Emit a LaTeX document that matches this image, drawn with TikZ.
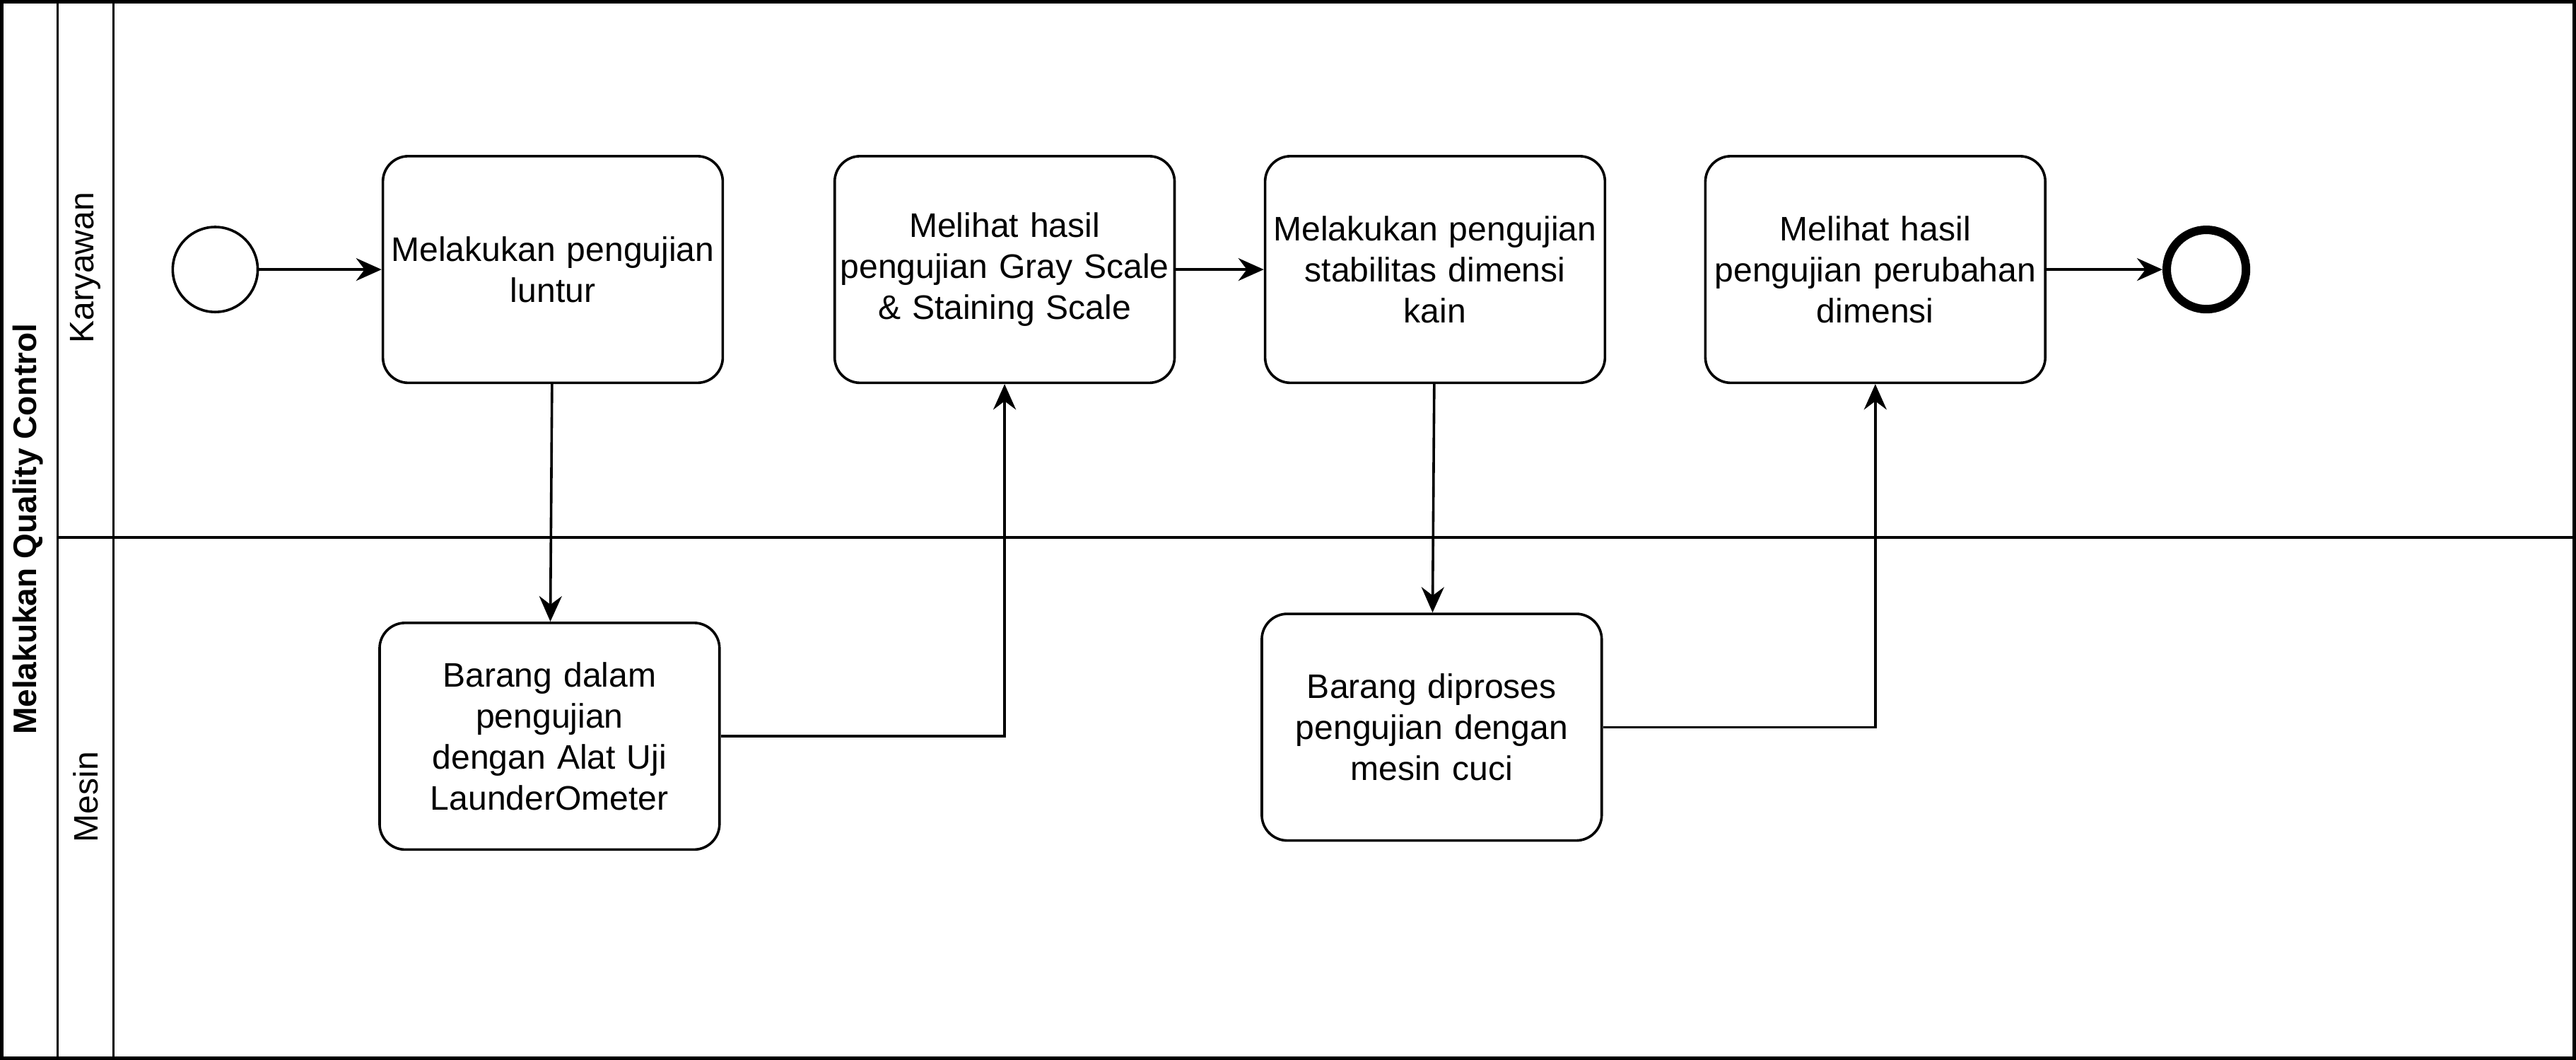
\documentclass[tikz,border=0pt]{standalone}
\usepackage{fontspec}
\setmainfont{Liberation Sans}
\usetikzlibrary{shapes,arrows.meta,calc,positioning}

\begin{document}
\begin{tikzpicture}[x=0.58pt, y=-0.58pt, line width=0.9pt,
  >={Stealth[length=9pt,width=8pt,inset=3pt]},
  task/.style={draw, rounded corners=9pt, minimum width=120pt, minimum height=80pt,
    text width=120pt, inner sep=0pt, align=center, font=\fontsize{12}{14.5}\selectfont},
  startev/.style={draw, circle, minimum size=30pt, inner sep=0pt},
  endev/.style={draw, circle, minimum size=28pt, inner sep=0pt, line width=3pt},
  lanelbl/.style={rotate=90, font=\fontsize{12}{14}\selectfont}]
  \useasboundingbox (0,0) rectangle (1568,645);
  % pool and lanes
  \draw[line width=1.1pt] (1,1) rectangle (1567,644);
  \draw (35,1) -- (35,644);
  \draw (69,1) -- (69,644);
  \draw (35,327) -- (1567,327);
  \node[lanelbl, font=\fontsize{11.5}{14}\selectfont\bfseries] (pool) at (17,322) {Melakukan Quality Control};
  \node[lanelbl] (karyawan) at (52,163) {Karyawan};
  \node[lanelbl] (mesin) at (52,485) {Mesin};
  % Karyawan
  \node[startev] (start) at (131,164) {};
  \node[task] (uji) at (336.5,164) {Melakukan pengujian\\luntur};
  \node[task] (gray) at (611.5,164) {Melihat hasil\\pengujian Gray Scale\\\& Staining Scale};
  \node[task] (stab) at (873.5,164) {Melakukan pengujian\\stabilitas dimensi\\kain};
  \node[task] (hasil) at (1141.5,164) {Melihat hasil\\pengujian perubahan\\dimensi};
  \node[endev] (end) at (1343,164) {};
  % Mesin
  \node[task] (launder) at (334.5,448) {Barang dalam\\pengujian\\dengan Alat Uji\\LaunderOmeter};
  \node[task] (cuci) at (871.5,442.5) {Barang diproses\\pengujian dengan\\mesin cuci};
  \path[->]
    (start) edge (uji)
    (uji) edge (launder)
    (gray) edge (stab)
    (stab) edge (cuci)
    (hasil) edge (end)
    ;
  \draw[->] (launder.east) -| (gray.south);
  \draw[->] (cuci.east) -| (hasil.south);
\end{tikzpicture}
\end{document}
